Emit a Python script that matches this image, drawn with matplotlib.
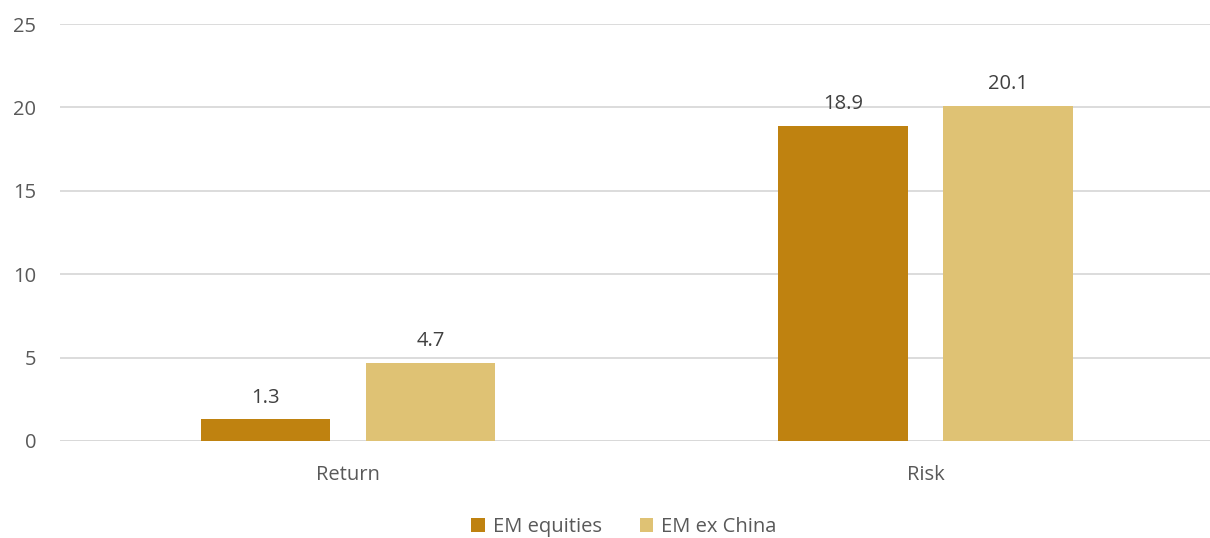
import numpy as np
import matplotlib.pyplot as plt

categories = ['Return', 'Risk']
series_names = ['EM equities', 'EM ex China']
em_equities = [1.3, 18.9]
em_ex_china = [4.7, 20.1]
yticks = [0, 5, 10, 15, 20, 25]

colors = ['#BF8210', '#DFC274']
text_color = '#595959'

plt.rcParams['font.family'] = ['Open Sans', 'DejaVu Sans']

fig = plt.figure(figsize=(12.1, 5.38), dpi=100)
ax = fig.add_axes([60 / 1210, 1 - 441 / 538, 1150 / 1210, (441 - 24) / 538])

x = np.arange(len(categories))
w = 0.224
off = 0.143
for vals, c, name, dx in [(em_equities, colors[0], series_names[0], -off),
                          (em_ex_china, colors[1], series_names[1], off)]:
    bars = ax.bar(x + dx, vals, width=w, color=c, label=name, zorder=3)
    for b, v in zip(bars, vals):
        ax.text(b.get_x() + b.get_width() / 2, v + 0.7, f'{v:.1f}',
                ha='center', va='bottom', fontsize=14.5, color='#404040')

ax.set_xlim(-0.4987, 1.4926)
ax.set_ylim(0, 25)
ax.set_yticks(yticks)
ax.set_xticks(x)
ax.set_xticklabels(categories)
ax.grid(axis='y', color='#D9D9D9', linewidth=1.3, zorder=0)
ax.tick_params(axis='both', length=0, labelsize=14.5, colors=text_color)
ax.tick_params(axis='y', pad=17)
ax.tick_params(axis='x', pad=17)
for s in ax.spines.values():
    s.set_visible(False)
ax.axhline(0, color='#D9D9D9', linewidth=1.3, zorder=2)

handles, labels = ax.get_legend_handles_labels()
leg = fig.legend(handles, labels, loc='center', bbox_to_anchor=(0.5156, 1 - 527 / 538),
                 ncol=2, frameon=False, fontsize=14.5, handlelength=0.65, handleheight=0.65,
                 handletextpad=0.4, columnspacing=1.9, borderpad=0.1)
for t in leg.get_texts():
    t.set_color(text_color)

fig.savefig('out.png', dpi=100)
